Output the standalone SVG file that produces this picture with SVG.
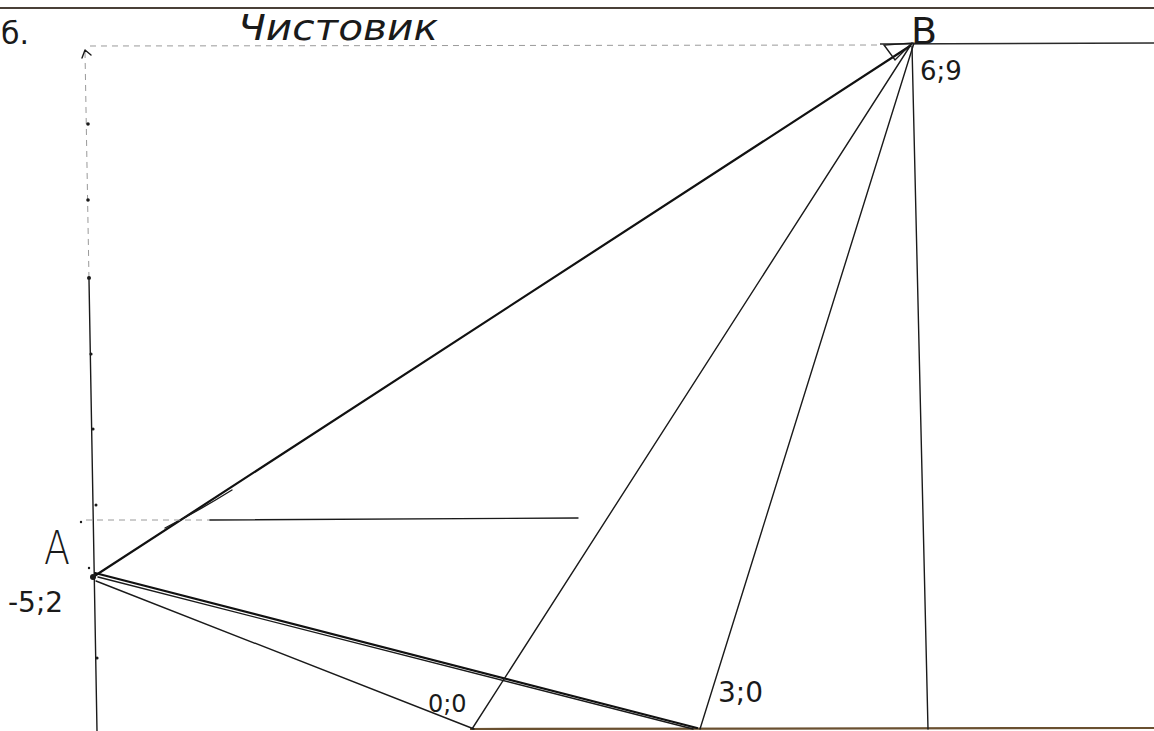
<svg xmlns="http://www.w3.org/2000/svg" width="1154" height="731" viewBox="0 0 1154 731">
<style>
.ln{stroke:#1a1a1a;stroke-width:1.4;fill:none;stroke-linecap:round}
.thk{stroke:#111;stroke-width:2.2;fill:none;stroke-linecap:round}
.faint{stroke:#9a9a9a;stroke-width:1;fill:none;stroke-dasharray:6 5}
.tick{fill:#1a1a1a}
.lbl{font-family:"DejaVu Sans","Liberation Sans",sans-serif;fill:#1a1a1a}
</style>
<rect width="1154" height="731" fill="#ffffff"/>
<g id="frame">
<line x1="0" y1="8" x2="1154" y2="8" stroke="#4a4038" stroke-width="2"/>
<line x1="90" y1="46" x2="880" y2="45" class="faint"/>
<line x1="880" y1="44" x2="1154" y2="43" stroke="#2a2a2a" stroke-width="1.6"/>
<line x1="470" y1="729" x2="1154" y2="728" stroke="#6a5030" stroke-width="2.2"/>
</g>
<g id="axis">
<line x1="85" y1="52" x2="89" y2="280" class="faint"/>
<line x1="89" y1="280" x2="97" y2="731" class="ln"/>
<path d="M85,50 L82,58 M85,50 L91,55" class="ln"/>
<circle cx="88" cy="124" r="1.8" class="tick"/>
<circle cx="88" cy="200" r="1.8" class="tick"/>
<circle cx="89" cy="278" r="2" class="tick"/>
<circle cx="91" cy="354" r="1.6" class="tick"/>
<circle cx="93" cy="429" r="1.6" class="tick"/>
<circle cx="96" cy="505" r="1.5" class="tick"/>
<circle cx="81" cy="522" r="1.2" class="tick"/>
<circle cx="89" cy="568" r="1.2" class="tick"/>
<circle cx="97" cy="658" r="1.6" class="tick"/>
</g>
<g id="connectors">
<line x1="93" y1="577" x2="910" y2="46" class="thk"/>
<path d="M165,528 Q200,510 232,490" class="ln"/>
<line x1="86" y1="520" x2="210" y2="520" class="faint"/>
<line x1="210" y1="520" x2="578" y2="518" class="ln"/>
<line x1="95" y1="573" x2="697" y2="728" class="thk"/>
<line x1="98" y1="577" x2="693" y2="729" class="ln"/>
<line x1="96" y1="581" x2="474" y2="729" class="ln"/>
<line x1="912" y1="43" x2="472" y2="729" class="ln"/>
<line x1="914" y1="43" x2="700" y2="729" class="ln"/>
<line x1="912" y1="46" x2="928" y2="729" class="ln"/>
<path d="M884,45 L895,60 L912,43 Z" class="ln" stroke-width="1.8"/>
</g>
<g id="title">
<text x="238" y="40" class="lbl" font-size="36" font-style="italic" textLength="200" lengthAdjust="spacingAndGlyphs">Чистовик</text>
<text x="1" y="44" class="lbl" font-size="30">б.</text>
</g>
<g id="nodeA">
<circle cx="93" cy="577" r="3" class="tick"/>
<text x="44" y="564" class="lbl" font-size="46" font-weight="200" textLength="26" lengthAdjust="spacingAndGlyphs">A</text>
<text x="8" y="612" class="lbl" font-size="28">-5;2</text>
</g>
<g id="nodeB">
<text x="911" y="44" class="lbl" font-size="38">B</text>
<text x="920" y="80" class="lbl" font-size="26">6;9</text>
</g>
<g id="node00">
<text x="428" y="712" class="lbl" font-size="24">0;0</text>
</g>
<g id="node30">
<text x="718" y="702" class="lbl" font-size="28">3;0</text>
</g>
</svg>
